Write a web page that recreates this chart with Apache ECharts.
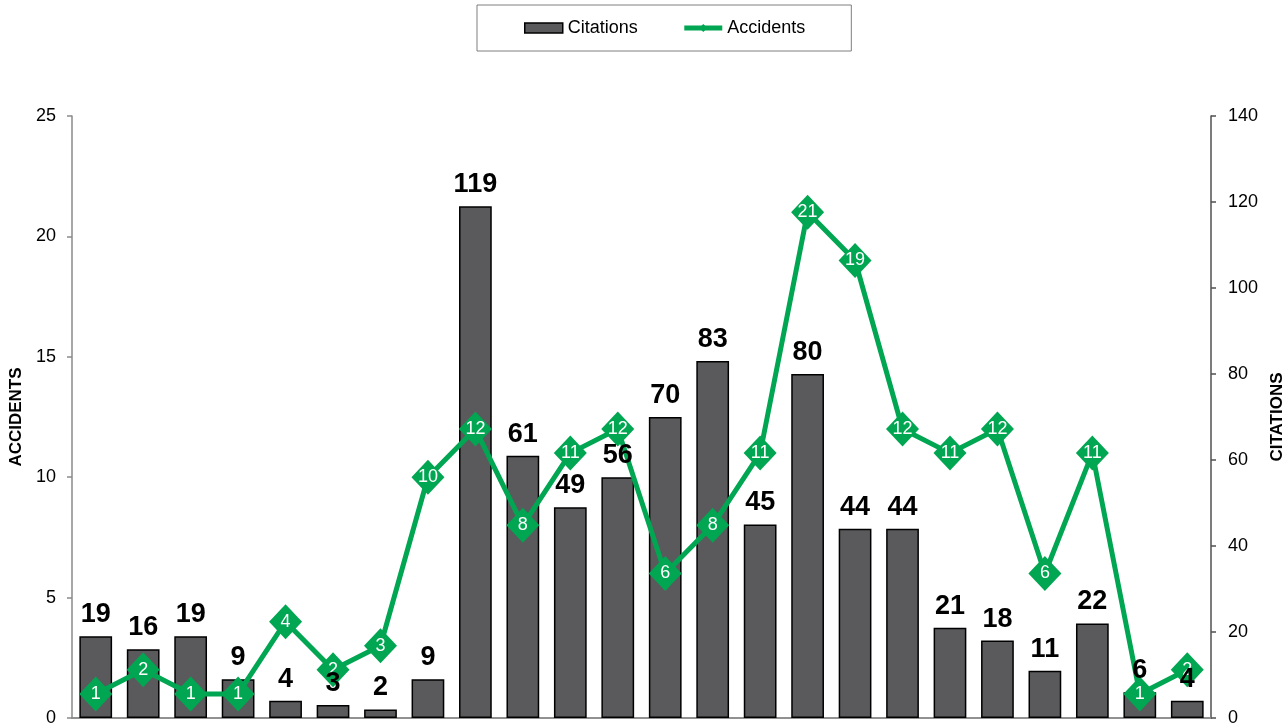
<!DOCTYPE html>
<html>
<head>
<meta charset="utf-8">
<script src="https://cdn.jsdelivr.net/npm/echarts@6/dist/echarts.min.js"></script>
<style>html,body{margin:0;padding:0;background:#fff}#c{width:1287px;height:728px}</style>
</head>
<body>
<div id="c"></div>
<script>
var categories = ['1','2','3','4','5','6','7','8','9','10','11','12','13','14','15','16','17','18','19','20','21','22','23','24'];
var citations = [19,16,19,9,4,3,2,9,119,61,49,56,70,83,45,80,44,44,21,18,11,22,6,4];
var accidents = [1,2,1,1,4,2,3,10,12,8,11,12,6,8,11,21,19,12,11,12,6,11,1,2];
var leftTicks = {min:0, max:25, interval:5};
var rightTicks = {min:0, max:140, interval:20};

var chart = echarts.init(document.getElementById('c'), null, {renderer:'canvas'});
var font = 'Arial, "Liberation Sans", sans-serif';
chart.setOption({
  animation: false,
  textStyle: {fontFamily: font},
  legend: {
    left: 477, top: 5,
    padding: [14, 46, 14, 47],
    borderColor: '#7f7f7f', borderWidth: 1,
    itemGap: 44, itemWidth: 38, itemHeight: 10,
    textStyle: {fontSize: 18, color: '#000', fontFamily: font},
    data: [
      {name: 'Citations', icon: 'rect', itemStyle: {color: '#5a5a5c', borderColor: '#000', borderWidth: 1.5}},
      {name: 'Accidents', lineStyle: {width: 5, color: '#00a651'}}
    ]
  },
  grid: {left: 72, right: 76, top: 116, bottom: 10, containLabel: false, outerBoundsMode: 'none'},
  xAxis: [{
    type: 'category', data: categories,
    axisLine: {show: true, lineStyle: {color: '#8a8a8a', width: 1.5}},
    axisTick: {show: false}, axisLabel: {show: false}, splitLine: {show: false}
  }, {
    type: 'category', data: categories, position: 'top',
    axisLine: {show: true, lineStyle: {color: '#8a8a8a', width: 1.5}},
    axisTick: {show: false}, axisLabel: {show: false}, splitLine: {show: false}
  }],
  yAxis: [{
    type: 'value', position: 'left',
    min: leftTicks.min, max: leftTicks.max, interval: leftTicks.interval,
    name: 'ACCIDENTS', nameLocation: 'middle', nameGap: 43, nameRotate: 90,
    nameTextStyle: {fontSize: 17, fontWeight: 'bold', color: '#000', fontFamily: font},
    axisLine: {show: true, lineStyle: {color: '#8a8a8a', width: 1.5}},
    axisTick: {show: true, inside: false, length: 5, lineStyle: {color: '#8a8a8a', width: 1.5}},
    axisLabel: {fontSize: 18, color: '#000', margin: 16, fontFamily: font},
    splitLine: {show: false}
  }, {
    type: 'value', position: 'right',
    min: rightTicks.min, max: rightTicks.max, interval: rightTicks.interval,
    name: 'CITATIONS', nameLocation: 'middle', nameGap: 55, nameRotate: 90,
    nameTextStyle: {fontSize: 17, fontWeight: 'bold', color: '#000', fontFamily: font},
    axisLine: {show: true, lineStyle: {color: '#505050', width: 1.5}},
    axisTick: {show: true, inside: false, length: 5, lineStyle: {color: '#505050', width: 1.5}},
    axisLabel: {fontSize: 18, color: '#000', margin: 17, fontFamily: font},
    splitLine: {show: false}
  }],
  series: [{
    name: 'Citations', type: 'bar', yAxisIndex: 1, data: citations,
    barWidth: '69%',
    itemStyle: {color: '#5a5a5c', borderColor: '#000', borderWidth: 1.5},
    label: {show: false},
    z: 2
  }, {
    name: 'Accidents', type: 'line', yAxisIndex: 0, data: accidents,
    symbol: 'diamond', symbolSize: [33, 35], showSymbol: true, showAllSymbol: true,
    lineStyle: {color: '#00a651', width: 5},
    itemStyle: {color: '#00a651'},
    label: {show: true, position: 'inside', fontSize: 18, color: '#fff', fontFamily: font},
    labelLayout: {hideOverlap: false},
    z: 3
  }, {
    name: 'CitationLabels', type: 'bar', yAxisIndex: 1, data: citations,
    barWidth: '69%', barGap: '-100%',
    itemStyle: {color: 'rgba(0,0,0,0)', borderWidth: 0},
    label: {show: true, position: 'top', distance: 8, fontSize: 27, fontWeight: 'bold', color: '#000', fontFamily: font},
    labelLayout: {hideOverlap: false},
    silent: true,
    z: 5
  }]
});
</script>
</body>
</html>
